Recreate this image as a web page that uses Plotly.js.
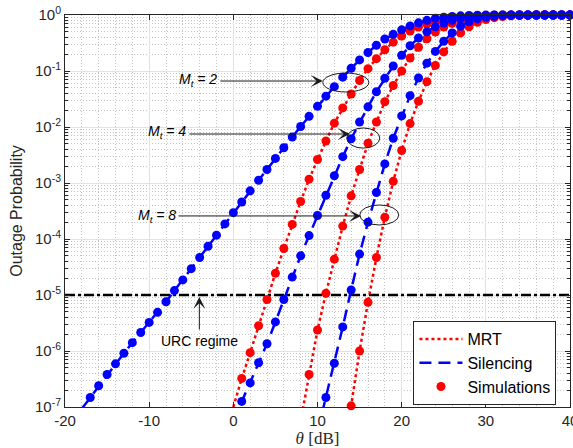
<!DOCTYPE html>
<html><head><meta charset="utf-8">
<script src="https://cdn.plot.ly/plotly-3.0.1.min.js"></script>
<style>html,body{margin:0;padding:0;background:#fff}#chart{width:573px;height:448px}</style>
</head><body><div id="chart"></div>
<script>
// ---- data ----
const thetaSil2 = [-18,-17,-16,-15,-14,-13,-12,-11,-10,-9,-8,-7,-6,-5,-4,-3,-2,-1,0,1,2,3,4,5,6,7,8,9,10,11,12,13,14,15,16,17,18,19,20,21,22,23,24,25,26,27,28,29,30,31,32,33,34,35,36,37,38,39,40];
const silMt2 = [9.33e-8,1.48e-7,2.40e-7,3.80e-7,5.89e-7,9.12e-7,1.41e-6,2.14e-6,3.24e-6,4.90e-6,7.59e-6,1.20e-5,1.86e-5,2.95e-5,4.68e-5,7.41e-5,1.17e-4,1.86e-4,2.95e-4,4.57e-4,7.24e-4,1.12e-3,1.74e-3,2.75e-3,4.27e-3,6.61e-3,1.02e-2,1.55e-2,2.34e-2,3.55e-2,5.25e-2,7.76e-2,0.112,0.158,0.214,0.288,0.372,0.452,0.543,0.638,0.724,0.804,0.871,0.912,0.944,0.966,0.982,0.991,0.995,0.998,0.999,1,1,1,1,1,1,1,1];

const thetaMrt2 = [0,1,2,3,4,5,6,7,8,9,10,11,12,13,14,15,16,17,18,19,20,21,22,23,24,25,26,27,28,29,30,31,32,33,34,35,36,37,38,39,40];
const mrtMt2 = [1.0e-7,3.24e-7,9.33e-7,2.82e-6,8.32e-6,2.45e-5,6.76e-5,1.82e-4,4.68e-4,1.17e-3,2.63e-3,5.62e-3,1.17e-2,2.19e-2,3.89e-2,6.76e-2,0.110,0.166,0.240,0.327,0.422,0.519,0.610,0.692,0.767,0.832,0.881,0.923,0.951,0.970,0.982,0.991,0.995,0.998,0.999,1,1,1,1,1,1];

const thetaSil4 = [0,1,2,3,4,5,6,7,8,9,10,11,12,13,14,15,16,17,18,19,20,21,22,23,24,25,26,27,28,29,30,31,32,33,34,35,36,37,38,39,40];
const silMt4 = [5.62e-8,1.26e-7,2.69e-7,6.17e-7,1.35e-6,3.31e-6,8.32e-6,2.09e-5,5.01e-5,1.15e-4,2.63e-4,6.03e-4,1.35e-3,2.95e-3,6.17e-3,1.23e-2,2.29e-2,4.27e-2,7.41e-2,0.123,0.191,0.282,0.389,0.501,0.617,0.716,0.804,0.871,0.918,0.951,0.973,0.986,0.993,0.9965,0.998,0.999,1,1,1,1,1];

const thetaMrt4 = [8,9,10,11,12,13,14,15,16,17,18,19,20,21,22,23,24,25,26,27,28,29,30,31,32,33,34,35,36,37,38,39,40];
const mrtMt4 = [5.62e-8,3.80e-7,2.37e-6,1.07e-5,4.37e-5,1.70e-4,5.89e-4,1.74e-3,5.13e-3,1.23e-2,2.82e-2,5.50e-2,0.100,0.170,0.266,0.376,0.495,0.610,0.708,0.794,0.861,0.912,0.944,0.968,0.982,0.991,0.995,0.998,0.999,1,1,1,1];

const thetaSil8 = [10,11,12,13,14,15,16,17,18,19,20,21,22,23,24,25,26,27,28,29,30,31,32,33,34,35,36,37,38,39,40];
const silMt8 = [3.55e-8,1.48e-7,6.03e-7,2.69e-6,1.23e-5,5.37e-5,2.00e-4,6.76e-4,2.19e-3,6.31e-3,1.58e-2,3.63e-2,7.50e-2,0.138,0.224,0.339,0.479,0.631,0.759,0.851,0.912,0.951,0.973,0.986,0.993,0.9965,0.998,0.999,1,1,1];

const thetaMrt8 = [13,14,15,16,17,18,19,20,21,22,23,24,25,26,27,28,29,30,31,32,33,34,35,36,37,38,39,40];
const mrtMt8 = [1.12e-8,1.05e-7,1.0e-6,7.41e-6,4.68e-5,2.45e-4,1.07e-3,3.80e-3,1.15e-2,2.88e-2,6.46e-2,0.126,0.219,0.339,0.479,0.617,0.741,0.832,0.897,0.940,0.966,0.982,0.991,0.995,0.998,0.999,1,1];

const urcLevel = 1e-5;
const xRange = [-20, 40];
const xTickVals = [-20,-10,0,10,20,30,40];
const xTickText = ['-20','-10','0','10','20','30','40'];
const yTickVals = [1e-7,1e-6,1e-5,1e-4,1e-3,1e-2,1e-1,1];
const yTickText = ['10<sup>-7</sup>','10<sup>-6</sup>','10<sup>-5</sup>','10<sup>-4</sup>','10<sup>-3</sup>','10<sup>-2</sup>','10<sup>-1</sup>','10<sup>0</sup>'];
const legendNames = ['MRT','Silencing','Simulations'];

// ---- styling ----
const RED = '#ff0000', BLUE = '#0000ff', INK = '#262626';
const mrtLine = {color: RED, width: 2.5, dash: 'dot'};
const silLine = {color: BLUE, width: 2.5, dash: '12px,7px'};

const traces = [];
traces.push({x: xRange, y: [urcLevel, urcLevel], mode: 'lines', showlegend: false,
  line: {color: '#000', width: 2.5, dash: '10px,3px,3px,3px'}, hoverinfo: 'skip'});
const mrt = [[thetaMrt2, mrtMt2],[thetaMrt4, mrtMt4],[thetaMrt8, mrtMt8]];
const sil = [[thetaSil2, silMt2],[thetaSil4, silMt4],[thetaSil8, silMt8]];
mrt.forEach((c,i)=>traces.push({x:c[0], y:c[1], mode:'lines', line:mrtLine, name:legendNames[0], showlegend:i===0}));
sil.forEach((c,i)=>traces.push({x:c[0], y:c[1], mode:'lines', line:silLine, name:legendNames[1], showlegend:i===0}));
mrt.forEach((c,i)=>traces.push({x:c[0].slice(1), y:c[1].slice(1), mode:'markers', cliponaxis:false,
  marker:{color:RED, size:9}, name:legendNames[2], showlegend:i===0}));
sil.forEach((c,i)=>traces.push({x:c[0].slice(1), y:c[1].slice(1), mode:'markers', cliponaxis:false,
  marker:{color:BLUE, size:9}, showlegend:false}));

// minor y grid positions (2..9 per decade)
const yMinor = [];
for (let e = -7; e < 0; e++) for (let k = 2; k <= 9; k++) yMinor.push(k * Math.pow(10, e));

const L = v => Math.log10(v);
const P = v => (Math.log10(v) + 7) / 7;   // log value -> paper fraction for y

function ellipse(x0, x1, p0, p1) {
  return {type:'circle', xref:'x', yref:'paper', x0:x0, x1:x1, y0:P(p0), y1:P(p1),
          line:{color:'#1a1a1a', width:1}};
}
function arrow(x, p, ax, ay) {
  return {x:x, y:L(p), xref:'x', yref:'y', text:'', showarrow:true, ax:ax, ay:ay,
          arrowhead:3, arrowsize:2, arrowwidth:1, arrowcolor:'#1a1a1a', standoff:0};
}
function label(x, p, txt, size) {
  return {x:x, y:L(p), xref:'x', yref:'y', text:txt, showarrow:false,
          font:{family:'Liberation Sans, Arial, sans-serif', size:size, color:'#000'}};
}

const layout = {
  width: 573, height: 448,
  margin: {l: 65, r: 3, t: 15, b: 41},
  paper_bgcolor: '#fff', plot_bgcolor: '#fff',
  font: {family: 'Liberation Sans, Arial, sans-serif', size: 15, color: INK},
  showlegend: true,
  legend: {x: 0.69, y: 0.2194, xanchor: 'left', yanchor: 'top', bgcolor: '#fff',
           bordercolor: INK, borderwidth: 1, font: {size: 16, color: '#000'}, itemwidth: 43,
           tracegroupgap: 0},
  xaxis: {range: xRange, tickmode: 'array', tickvals: xTickVals, ticktext: xTickText,
          ticklabeloverflow: 'allow',
          showline: true, linecolor: INK, linewidth: 1, mirror: 'allticks',
          ticks: 'inside', ticklen: 5, tickcolor: INK, zeroline: false,
          showgrid: true, gridcolor: '#e2e2e2', gridwidth: 1,
          minor: {dtick: 2, showgrid: true, griddash: '1px,2px', gridcolor: '#c4c4c4', ticks: ''},
          title: {text: '<i>θ</i> [dB]', font: {family: 'Liberation Serif, Times New Roman, serif', size: 17, color: INK}, standoff: 9}},
  yaxis: {type: 'log', range: [-7, 0], tickmode: 'array', tickvals: yTickVals, ticktext: yTickText,
          showline: true, linecolor: INK, linewidth: 1, mirror: 'allticks',
          ticks: 'inside', ticklen: 5, tickcolor: INK, zeroline: false,
          showgrid: true, gridcolor: '#e2e2e2', gridwidth: 1,
          minor: {tickmode: 'array', tickvals: yMinor, showgrid: true, griddash: '1px,2px',
                  gridcolor: '#c4c4c4', ticks: 'inside', ticklen: 3, tickcolor: INK},
          title: {text: 'Outage Probability', font: {size: 16, color: INK}, standoff: 8}},
  shapes: [
    ellipse(10.63, 16.1, 0.0422, 0.092),
    ellipse(13.48, 17.4, 4.2e-3, 9.6e-3),
    ellipse(15.02, 19.66, 1.78e-4, 4.05e-4)
  ],
  annotations: [
    arrow(10.63, 0.0662, -104, 0),
    label(-4.16, 0.069, '<i>M</i><sub><i>t</i></sub><i> = 2</i>', 14),
    arrow(13.84, 7.5e-3, -162, 0),
    label(-7.84, 8.1e-3, '<i>M</i><sub><i>t</i></sub><i> = 4</i>', 14),
    arrow(15.17, 2.58e-4, -184, 0),
    label(-9.09, 2.6e-4, '<i>M</i><sub><i>t</i></sub><i> = 8</i>', 14),
    arrow(-4.04, 9.2e-6, 0, 34),
    label(-4.0, 1.51e-6, 'URC regime', 14)
  ]
};

Plotly.newPlot('chart', traces, layout, {staticPlot: true, displayModeBar: false});
</script></body></html>
